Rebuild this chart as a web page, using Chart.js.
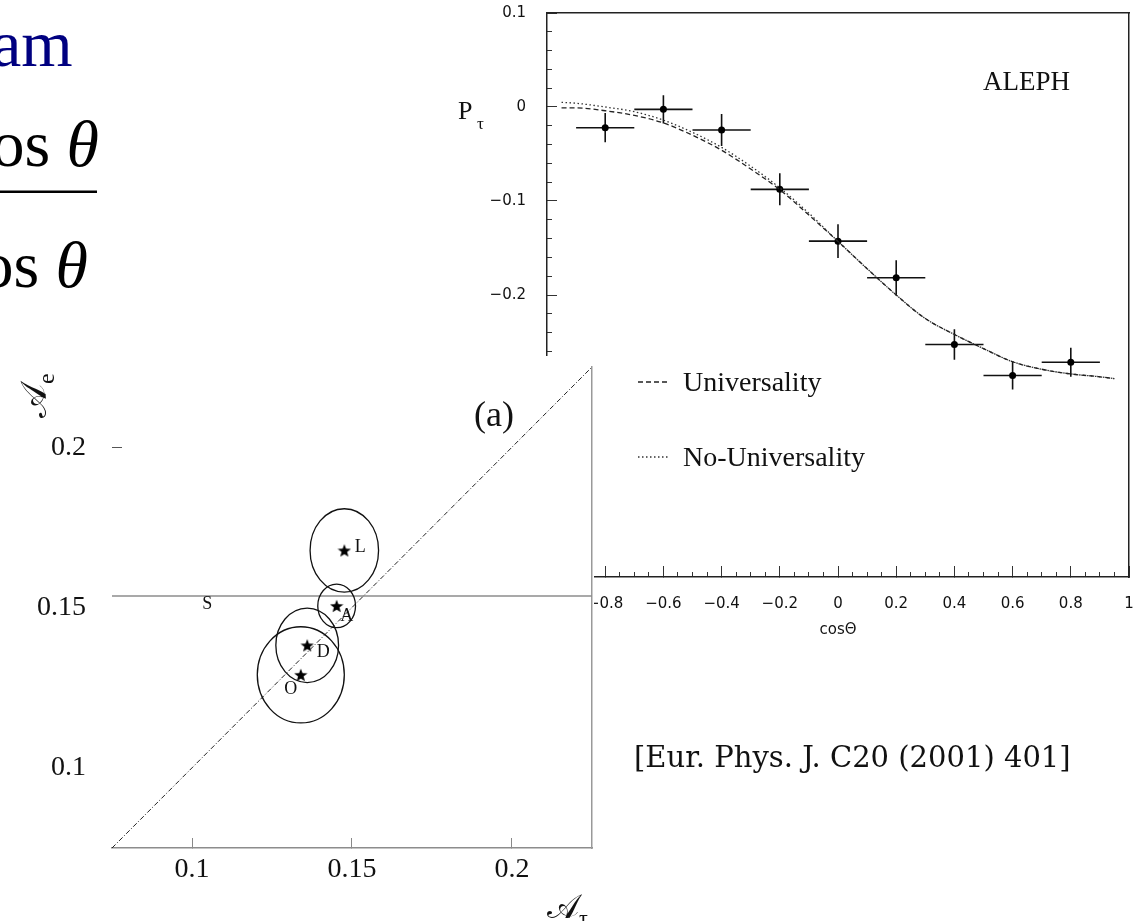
<!DOCTYPE html>
<html>
<head>
<meta charset="utf-8">
<script src="https://cdn.jsdelivr.net/npm/chart.js@4.4.1/dist/chart.umd.min.js"></script>
<style>
  html, body { margin: 0; padding: 0; background: #fff; }
  body { position: relative; width: 1134px; height: 921px; overflow: hidden; }
  #aleph { position: absolute; left: 419px; top: 0; }
  #asym { position: absolute; left: 0; top: 356px; background: #fff; }
  #overlay { position: absolute; left: 0; top: 0; pointer-events: none; }
</style>
</head>
<body>
<canvas id="aleph" width="715" height="660"></canvas>
<canvas id="asym" width="594" height="565"></canvas>
<svg id="overlay" width="1134" height="921" font-family="'Liberation Serif', serif">
  <text x="-8" y="66" font-size="66" fill="#000080">am</text>
  <text x="99" y="166" font-size="66" text-anchor="end" fill="#000">os <tspan font-style="italic">θ</tspan></text>
  <rect x="0" y="190.5" width="97" height="2.5" fill="#000"/>
  <text x="88" y="287" font-size="66" text-anchor="end" fill="#000">os <tspan font-style="italic">θ</tspan></text>
  <text x="458" y="119" font-size="26" fill="#111">P</text>
  <text x="477" y="129" font-size="17" fill="#111">τ</text>
  <text x="983" y="89.5" font-size="27" fill="#111">ALEPH</text>
  <text x="474" y="426" font-size="36" fill="#111">(a)</text>
  <text transform="translate(46,418) rotate(-90)" font-size="36" fill="#111">𝒜<tspan font-size="24" dy="8">e</tspan></text>
  <text x="547" y="918" font-size="34" fill="#111">𝒜<tspan font-size="22" dy="7">τ</tspan></text>
  <text x="634" y="767" font-size="29" font-family="'DejaVu Serif', serif" fill="#111">[Eur. Phys. J. C20 (2001) 401]</text>
</svg>
<script>
// ---- tau polarisation versus cos(theta), ALEPH ----
const cosBins      = [-0.8, -0.6, -0.4, -0.2, 0, 0.2, 0.4, 0.6, 0.8];
const cosHalfWidth = [0.1, 0.1, 0.1, 0.1, 0.1, 0.1, 0.1, 0.1, 0.1];
const ptau         = [-0.022, -0.0025, -0.0245, -0.0876, -0.1427, -0.1817, -0.2527, -0.2857, -0.2715];
const ptauErr      = [0.0155, 0.015, 0.017, 0.017, 0.018, 0.0186, 0.0163, 0.0147, 0.0155];

const cosGrid        = [-0.95, -0.9, -0.8, -0.7, -0.6, -0.5, -0.4, -0.3, -0.2, -0.1, 0, 0.1, 0.2, 0.3, 0.4, 0.5, 0.6, 0.7, 0.8, 0.9, 0.95];
const universality   = [-0.001, -0.001, -0.004, -0.009, -0.017, -0.030, -0.046, -0.066, -0.088, -0.115, -0.143, -0.172, -0.200, -0.225, -0.242, -0.257, -0.271, -0.279, -0.284, -0.287, -0.289];
const noUniversality = [0.005, 0.004, 0.000, -0.005, -0.014, -0.027, -0.043, -0.063, -0.086, -0.113, -0.143, -0.172, -0.200, -0.225, -0.242, -0.257, -0.271, -0.279, -0.284, -0.287, -0.289];

const cosTicks       = [-1, -0.8, -0.6, -0.4, -0.2, 0, 0.2, 0.4, 0.6, 0.8, 1];
const cosTickLabels  = ['−1', '−0.8', '−0.6', '−0.4', '−0.2', '0', '0.2', '0.4', '0.6', '0.8', '1'];
const ptauTicks      = [0.1, 0, -0.1, -0.2, -0.3, -0.4, -0.5];
const ptauTickLabels = ['0.1', '0', '−0.1', '−0.2', '−0.3', '−0.4', '−0.5'];

// ---- A_e versus A_tau plane ----
const expNames = ['L', 'A', 'D', 'O'];
const aTau     = [0.1476, 0.1452, 0.1360, 0.1340];
const aE       = [0.1678, 0.1505, 0.1382, 0.1290];
const aTauErr  = [0.0107, 0.0059, 0.0098, 0.0136];
const aEErr    = [0.0130, 0.0068, 0.0116, 0.0150];
const sldName  = 'S';
const sldAe    = 0.1536;
const sldLabelAt = 0.1048;
const asymRange      = [0.075, 0.225];
const asymTicks      = [0.1, 0.15, 0.2];
const asymTickLabels = ['0.1', '0.15', '0.2'];

// label placement next to each star (pixels)
const labelOffset = { L: [16, -3], A: [10, 10], D: [16, 7], O: [-10, 14], S: [0, 8] };

const INK = '#111';
const sansTick = { family: "'DejaVu Sans', sans-serif", size: 15 };
const serifTick = { family: "'Liberation Serif', serif", size: 28 };

// fixed axis thickness, and no extra room reserved for overhanging labels
function fixedSize(prop, v) {
  return s => {
    s[prop] = v;
    s.paddingTop = 0; s.paddingBottom = 0; s.paddingLeft = 0; s.paddingRight = 0;
  };
}
function pickTicks(values) { return s => { s.ticks = values.map(v => ({ value: v })); }; }
function labelFrom(values, labels) { return v => { const i = values.indexOf(v); return i < 0 ? '' : labels[i]; }; }

// error bars of the measured points
const errorBars = {
  id: 'errorBars',
  beforeDatasetsDraw(chart) {
    const { ctx, scales: { x, y } } = chart;
    ctx.save();
    ctx.strokeStyle = INK;
    ctx.lineWidth = 1.6;
    cosBins.forEach((c, i) => {
      const px = x.getPixelForValue(c), py = y.getPixelForValue(ptau[i]);
      ctx.beginPath();
      ctx.moveTo(x.getPixelForValue(c - cosHalfWidth[i]), py);
      ctx.lineTo(x.getPixelForValue(c + cosHalfWidth[i]), py);
      ctx.moveTo(px, y.getPixelForValue(ptau[i] + ptauErr[i]));
      ctx.lineTo(px, y.getPixelForValue(ptau[i] - ptauErr[i]));
      ctx.stroke();
    });
    ctx.restore();
  }
};

// legend block inside the frame
const curveLegend = {
  id: 'curveLegend',
  afterDraw(chart) {
    const { ctx } = chart;
    const items = chart.data.datasets.filter(d => d.showLine);
    ctx.save();
    ctx.font = "28px 'Liberation Serif', serif";
    ctx.fillStyle = INK;
    ctx.textBaseline = 'alphabetic';
    items.forEach((d, k) => {
      const yLine = 382 + k * 75;
      ctx.beginPath();
      ctx.setLineDash(d.borderDash);
      ctx.strokeStyle = d.borderColor;
      ctx.lineWidth = d.borderWidth;
      ctx.moveTo(638 - 419, yLine);
      ctx.lineTo(668 - 419, yLine);
      ctx.stroke();
      ctx.setLineDash([]);
      ctx.fillText(d.label, 683 - 419, yLine + 9);
    });
    ctx.restore();
  }
};

new Chart(document.getElementById('aleph'), {
  type: 'scatter',
  data: {
    datasets: [
      { label: 'Universality', data: cosGrid.map((c, i) => ({ x: c, y: universality[i] })),
        showLine: true, borderColor: '#222', borderWidth: 1.3, borderDash: [5, 3],
        pointRadius: 0, cubicInterpolationMode: 'monotone' },
      { label: 'No-Universality', data: cosGrid.map((c, i) => ({ x: c, y: noUniversality[i] })),
        showLine: true, borderColor: '#333', borderWidth: 1.3, borderDash: [1.5, 2.5],
        pointRadius: 0, cubicInterpolationMode: 'monotone' },
      { label: 'ALEPH', data: cosBins.map((c, i) => ({ x: c, y: ptau[i] })),
        showLine: false, pointRadius: 3.5, pointBackgroundColor: '#000', pointBorderWidth: 0 }
    ]
  },
  options: {
    responsive: false, animation: false, devicePixelRatio: 1, events: [],
    layout: { autoPadding: false, padding: { top: 13, right: 5, left: 0, bottom: 0 } },
    plugins: { legend: { display: false }, tooltip: { enabled: false } },
    scales: {
      x: {
        type: 'linear', min: -1, max: 1, position: 'bottom', weight: 0,
        afterBuildTicks: pickTicks(cosTicks), afterFit: fixedSize('height', 83),
        ticks: { autoSkip: false, maxRotation: 0, padding: 29, color: INK, font: sansTick,
                 callback: labelFrom(cosTicks, cosTickLabels) },
        grid: { drawOnChartArea: false, tickLength: -11, color: '#333', lineWidth: 1 },
        border: { color: '#222', width: 1.5 },
        title: { display: true, text: 'cosΘ', color: INK, font: sansTick, padding: { top: 0, bottom: 21 } }
      },
      xMinor: {
        type: 'linear', min: -1, max: 1, position: 'bottom', weight: -10,
        afterFit: fixedSize('height', 0),
        ticks: { display: false, stepSize: 0.05 },
        grid: { drawOnChartArea: false, tickLength: -5, color: '#333', lineWidth: 1 },
        border: { display: false }
      },
      xTop: {
        type: 'linear', min: -1, max: 1, position: 'top', afterFit: fixedSize('height', 0),
        ticks: { display: false }, grid: { display: false, drawTicks: false },
        border: { color: '#222', width: 1.5 }
      },
      y: {
        type: 'linear', min: -0.5, max: 0.1, position: 'left', weight: 0,
        afterBuildTicks: pickTicks(ptauTicks), afterFit: fixedSize('width', 128),
        ticks: { autoSkip: false, padding: 31, color: INK, font: sansTick,
                 callback: labelFrom(ptauTicks, ptauTickLabels) },
        grid: { drawOnChartArea: false, tickLength: -10, color: '#333', lineWidth: 1 },
        border: { color: '#222', width: 1.5 }
      },
      yMinor: {
        type: 'linear', min: -0.5, max: 0.1, position: 'left', weight: -10,
        afterFit: fixedSize('width', 0),
        ticks: { display: false, stepSize: 0.02 },
        grid: { drawOnChartArea: false, tickLength: -5, color: '#333', lineWidth: 1 },
        border: { display: false }
      },
      yRight: {
        type: 'linear', min: -0.5, max: 0.1, position: 'right', afterFit: fixedSize('width', 0),
        ticks: { display: false }, grid: { display: false, drawTicks: false },
        border: { color: '#222', width: 1.5 }
      }
    }
  },
  plugins: [errorBars, curveLegend]
});

// filled five-point star marker
function starMarker(size, color) {
  const c = document.createElement('canvas');
  c.width = size; c.height = size;
  const g = c.getContext('2d');
  g.fillStyle = color;
  g.beginPath();
  for (let k = 0; k < 10; k++) {
    const r = k % 2 ? size * 0.21 : size * 0.5;
    const a = -Math.PI / 2 + k * Math.PI / 5;
    g.lineTo(size / 2 + r * Math.cos(a), size / 2 + 0.7 + r * Math.sin(a));
  }
  g.closePath();
  g.fill();
  return c;
}

// one-sigma contours and experiment labels
const contours = {
  id: 'contours',
  afterDatasetsDraw(chart) {
    const { ctx, scales: { x, y } } = chart;
    ctx.save();
    ctx.strokeStyle = INK;
    ctx.lineWidth = 1.3;
    expNames.forEach((n, i) => {
      const cx = x.getPixelForValue(aTau[i]), cy = y.getPixelForValue(aE[i]);
      const rx = Math.abs(x.getPixelForValue(aTau[i] + aTauErr[i]) - cx);
      const ry = Math.abs(y.getPixelForValue(aE[i] + aEErr[i]) - cy);
      ctx.beginPath();
      ctx.ellipse(cx, cy, rx, ry, 0, 0, Math.PI * 2);
      ctx.stroke();
    });
    ctx.fillStyle = INK;
    ctx.font = "18px 'Liberation Serif', serif";
    ctx.textAlign = 'center';
    ctx.textBaseline = 'middle';
    expNames.forEach((n, i) => {
      const o = labelOffset[n];
      ctx.fillText(n, x.getPixelForValue(aTau[i]) + o[0], y.getPixelForValue(aE[i]) + o[1]);
    });
    ctx.fillText(sldName, x.getPixelForValue(sldLabelAt) + labelOffset.S[0], y.getPixelForValue(sldAe) + labelOffset.S[1]);
    ctx.restore();
  }
};

new Chart(document.getElementById('asym'), {
  type: 'scatter',
  data: {
    datasets: [
      { label: 'A_e = A_tau', data: asymRange.map(v => ({ x: v, y: v })), showLine: true,
        borderColor: '#222', borderWidth: 1, borderDash: [5, 2, 1, 2], pointRadius: 0 },
      { label: sldName, data: asymRange.map(v => ({ x: v, y: sldAe })), showLine: true,
        borderColor: '#8c8c8c', borderWidth: 1.5, pointRadius: 0 },
      { label: 'experiments', data: expNames.map((n, i) => ({ x: aTau[i], y: aE[i] })), showLine: false,
        pointStyle: starMarker(14, '#000'), pointRadius: 7 }
    ]
  },
  options: {
    responsive: false, animation: false, devicePixelRatio: 1, events: [],
    layout: { autoPadding: false, padding: { top: 11, right: 2, left: 0, bottom: 0 } },
    plugins: { legend: { display: false }, tooltip: { enabled: false } },
    scales: {
      x: {
        type: 'linear', min: asymRange[0], max: asymRange[1], position: 'bottom',
        afterBuildTicks: pickTicks(asymTicks), afterFit: fixedSize('height', 73),
        ticks: { autoSkip: false, maxRotation: 0, padding: 15, color: INK, font: serifTick,
                 callback: labelFrom(asymTicks, asymTickLabels) },
        grid: { drawOnChartArea: false, tickLength: -10, color: '#888', lineWidth: 1 },
        border: { color: '#8c8c8c', width: 1.5 }
      },
      y: {
        type: 'linear', min: asymRange[0], max: asymRange[1], position: 'left',
        afterBuildTicks: pickTicks(asymTicks), afterFit: fixedSize('width', 112),
        ticks: { autoSkip: false, padding: 36, color: INK, font: serifTick,
                 callback: labelFrom(asymTicks, asymTickLabels) },
        grid: { drawOnChartArea: false, tickLength: -10, lineWidth: 1,
                tickColor: c => (c.tick && c.tick.value === 0.2) ? '#555' : 'rgba(0,0,0,0)' },
        border: { display: false }
      },
      yRight: {
        type: 'linear', min: asymRange[0], max: asymRange[1], position: 'right',
        afterFit: fixedSize('width', 0),
        ticks: { display: false }, grid: { display: false, drawTicks: false },
        border: { color: '#999', width: 1.5 }
      }
    }
  },
  plugins: [contours]
});
</script>
</body>
</html>
